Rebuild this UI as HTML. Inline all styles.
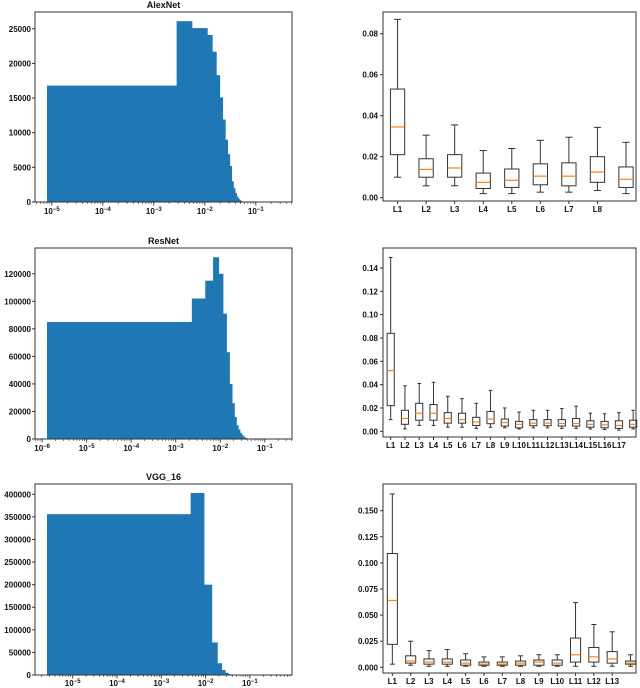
<!DOCTYPE html>
<html><head><meta charset="utf-8"><style>
html,body{margin:0;padding:0;background:#fff;}
svg{display:block;font-family:"Liberation Sans",sans-serif;}
text{font-size:8px;font-weight:bold;fill:#111;}
</style></head><body>
<svg id="fig" width="640" height="688" viewBox="0 0 640 688"></svg>
<script>
// ---- Histogram data (linear bins, counts) ----
const alexBinWidth = 0.0028;
const alexCounts = [16800,26100,25100,25100,24100,21700,18300,15100,11900,9000,6900,5200,3000,2000,1300,800,500,300,150,80,40,20];
const resBinWidth = 0.0023;
const resCounts = [85000,102000,115000,132000,120000,91000,63000,40000,26000,16000,10000,7000,4500,3000,2000,1200,700,400,200,100,50];
const vggBinWidth = 0.0046;
const vggCounts = [356000,403000,200000,72000,26000,11000,5000,2000,800,300,120,50];
const alexYTicks = [0,5000,10000,15000,20000,25000];
const resYTicks = [0,20000,40000,60000,80000,100000,120000];
const vggYTicks = [0,50000,100000,150000,200000,250000,300000,350000,400000];
// ---- Box plot data: [whiskerLow, q1, median, q3, whiskerHigh] ----
const alexBoxes = [[0.010,0.021,0.0345,0.053,0.087],[0.0058,0.010,0.0138,0.019,0.0305],[0.0058,0.010,0.0145,0.021,0.0355],[0.002,0.0045,0.0075,0.012,0.023],[0.002,0.005,0.0085,0.014,0.024],[0.0027,0.0063,0.0105,0.0165,0.028],[0.0027,0.0058,0.0105,0.017,0.0295],[0.0035,0.0075,0.0125,0.020,0.0343],[0.002,0.005,0.009,0.015,0.027]];
const alexBoxLabels = ["L1","L2","L3","L4","L5","L6","L7","L8"];
const alexBoxTicks = [0,0.02,0.04,0.06,0.08];
const alexBoxTickLabels = ["0.00","0.02","0.04","0.06","0.08"];
const resBoxes = [[0.010,0.022,0.052,0.084,0.149],[0.002,0.006,0.011,0.018,0.039],[0.005,0.0095,0.0155,0.024,0.041],[0.005,0.0095,0.0155,0.023,0.042],[0.0035,0.007,0.011,0.016,0.030],[0.0035,0.007,0.010,0.0155,0.028],[0.0025,0.005,0.008,0.012,0.024],[0.0035,0.0065,0.0105,0.017,0.035],[0.003,0.0045,0.0075,0.0105,0.020],[0.002,0.003,0.006,0.0085,0.0165],[0.003,0.0048,0.007,0.010,0.018],[0.003,0.0048,0.007,0.010,0.018],[0.0025,0.0045,0.0068,0.010,0.0195],[0.0025,0.0045,0.0068,0.011,0.0215],[0.002,0.0035,0.006,0.009,0.0155],[0.0015,0.003,0.0055,0.0085,0.015],[0.001,0.0025,0.005,0.009,0.016],[0.002,0.0035,0.006,0.0095,0.018]];
const resBoxLabels = ["L1","L2","L3","L4","L5","L6","L7","L8","L9","L10","L11","L12","L13","L14","L15","L16","L17"];
const resBoxTicks = [0,0.02,0.04,0.06,0.08,0.10,0.12,0.14];
const resBoxTickLabels = ["0.00","0.02","0.04","0.06","0.08","0.10","0.12","0.14"];
const vggBoxes = [[0.003,0.022,0.064,0.109,0.166],[0.002,0.004,0.006,0.011,0.025],[0.001,0.003,0.005,0.008,0.016],[0.001,0.003,0.005,0.008,0.017],[0.001,0.002,0.004,0.007,0.013],[0.001,0.002,0.003,0.005,0.010],[0.001,0.002,0.003,0.005,0.010],[0.001,0.002,0.004,0.006,0.011],[0.001,0.002,0.005,0.007,0.012],[0.001,0.002,0.004,0.007,0.012],[0.001,0.005,0.012,0.028,0.062],[0.001,0.005,0.010,0.019,0.041],[0.001,0.004,0.008,0.015,0.034],[0.001,0.003,0.004,0.006,0.012]];
const vggBoxLabels = ["L1","L2","L3","L4","L5","L6","L7","L8","L9","L10","L11","L12","L13"];
const vggBoxTicks = [0,0.025,0.05,0.075,0.10,0.125,0.15];
const vggBoxTickLabels = ["0.000","0.025","0.050","0.075","0.100","0.125","0.150"];

const NS="http://www.w3.org/2000/svg";
const svg=document.getElementById('fig');
function mk(tag,attrs,parent){const e=document.createElementNS(NS,tag);for(const k in attrs)e.setAttribute(k,attrs[k]);(parent||svg).appendChild(e);return e;}

function hist(cfg){
  const g=mk('g',{});
  
  
  const {x0,x1,y0,y1,lmin,lmax,ymax}=cfg;
  const sx=v=>x0+(Math.log10(v)-lmin)/(lmax-lmin)*(x1-x0);
  const sy=v=>y1-v/ymax*(y1-y0);
  const leftX=cfg.leftX;
  cfg.counts.forEach((c,i)=>{
    const a=i===0?leftX:sx(i*cfg.w), b=sx((i+1)*cfg.w);
    const r=mk('rect',{x:a,y:sy(c),width:Math.max(b-a+0.4,0),height:y1-sy(c),fill:'#1f77b4'},g);
    
    
  });
  const fr=mk('rect',{x:x0,y:y0,width:x1-x0,height:y1-y0,fill:'none',stroke:'#333','stroke-width':1},g);
  
  
  cfg.yticks.forEach(v=>{
    const y=sy(v);
    mk('line',{x1:x0-3,x2:x0,y1:y,y2:y,stroke:'#333'},g);
    const t=mk('text',{x:x0-4,y:y+3,'text-anchor':'end'},g);t.textContent=String(v);
    
    
  });
  for(let d=Math.floor(lmin);d<=Math.ceil(lmax);d++){
    for(let m=1;m<10;m++){
      const lv=d+Math.log10(m); if(lv<lmin||lv>lmax)continue;
      const x=x0+(lv-lmin)/(lmax-lmin)*(x1-x0);
      mk('line',{x1:x,x2:x,y1:y1,y2:y1+(m===1?3.5:2),stroke:'#333','stroke-width':m===1?0.9:0.6},g);
      if(m===1){
        const t=mk('text',{x:x,y:cfg.labelY,'text-anchor':'middle'},g);
        t.innerHTML='10<tspan dy="-3" font-size="6">−'+(-d)+'</tspan>';
        
        
      }
    }
  }
  const tt=mk('text',{x:(x0+x1)/2,y:y0-4,'text-anchor':'middle','font-size':'9'},g);
  tt.style.fontSize='9px';tt.textContent=cfg.title;
  
  
}

function boxes(cfg){
  const g=mk('g',{});
  
  
  const {x0,x1,y0,y1,pmin,pmax,v0y,vTop,vTopY}=cfg;
  const sx=p=>x0+(p-pmin)/(pmax-pmin)*(x1-x0);
  const sy=v=>v0y-v/vTop*(v0y-vTopY);
  const fr=mk('rect',{x:x0,y:y0,width:x1-x0,height:y1-y0,fill:'none',stroke:'#333'},g);
  
  
  const hw=cfg.bw/2*(sx(2)-sx(1));
  cfg.data.forEach((d,i)=>{
    const cx=sx(i+1);
    const bg=mk('g',{stroke:'#333','stroke-width':1,fill:'none'},g);
    
    
    mk('line',{x1:cx,x2:cx,y1:sy(d[0]),y2:sy(d[1])},bg);
    mk('line',{x1:cx,x2:cx,y1:sy(d[3]),y2:sy(d[4])},bg);
    mk('line',{x1:cx-hw/2,x2:cx+hw/2,y1:sy(d[0]),y2:sy(d[0])},bg);
    mk('line',{x1:cx-hw/2,x2:cx+hw/2,y1:sy(d[4]),y2:sy(d[4])},bg);
    mk('rect',{x:cx-hw,y:sy(d[3]),width:2*hw,height:sy(d[1])-sy(d[3])},bg);
    mk('line',{x1:cx-hw,x2:cx+hw,y1:sy(d[2]),y2:sy(d[2]),stroke:'#ff7f0e','stroke-width':1.2},bg);
  });
  cfg.labels.forEach((l,i)=>{
    const cx=sx(i+1);
    mk('line',{x1:cx,x2:cx,y1:y1,y2:y1+3,stroke:'#333'},g);
    const t=mk('text',{x:cx,y:y1+11,'text-anchor':'middle'},g);t.textContent=l;
    
    
  });
  cfg.ticks.forEach((v,i)=>{
    const y=sy(v);
    mk('line',{x1:x0-3,x2:x0,y1:y,y2:y,stroke:'#333'},g);
    const t=mk('text',{x:x0-5,y:y+3,'text-anchor':'end'},g);t.textContent=cfg.tickLabels[i];
    
    
  });
}

hist({name:'alexnet-histogram',title:'AlexNet',x0:35,x1:292,y0:12,y1:202,lmin:-5.33,lmax:-0.29,leftX:47,ymax:27423,w:alexBinWidth,counts:alexCounts,yticks:alexYTicks,labelY:214});
hist({name:'resnet-histogram',title:'ResNet',x0:35,x1:292,y0:248,y1:439,lmin:-6.16,lmax:-0.39,leftX:47,ymax:138700,w:resBinWidth,counts:resCounts,yticks:resYTicks,labelY:451});
hist({name:'vgg16-histogram',title:'VGG_16',x0:35,x1:292,y0:484,y1:675,lmin:-5.85,lmax:-0.05,leftX:47,ymax:422800,w:vggBinWidth,counts:vggCounts,yticks:vggYTicks,labelY:686});

boxes({name:'alexnet-boxplot',x0:383,x1:636,y0:12,y1:201,pmin:0.49,pmax:9.35,v0y:197.7,vTop:0.08,vTopY:33.7,bw:0.5,data:alexBoxes,labels:alexBoxLabels,ticks:alexBoxTicks,tickLabels:alexBoxTickLabels});
boxes({name:'resnet-boxplot',x0:383,x1:636,y0:248,y1:437,pmin:0.46,pmax:18.2,v0y:431.3,vTop:0.14,vTopY:268,bw:0.5,data:resBoxes,labels:resBoxLabels,ticks:resBoxTicks,tickLabels:resBoxTickLabels});
boxes({name:'vgg16-boxplot',x0:383,x1:636,y0:484,y1:673,pmin:0.49,pmax:14.3,v0y:667.3,vTop:0.15,vTopY:510.7,bw:0.55,data:vggBoxes,labels:vggBoxLabels,ticks:vggBoxTicks,tickLabels:vggBoxTickLabels});
</script>
</body></html>
